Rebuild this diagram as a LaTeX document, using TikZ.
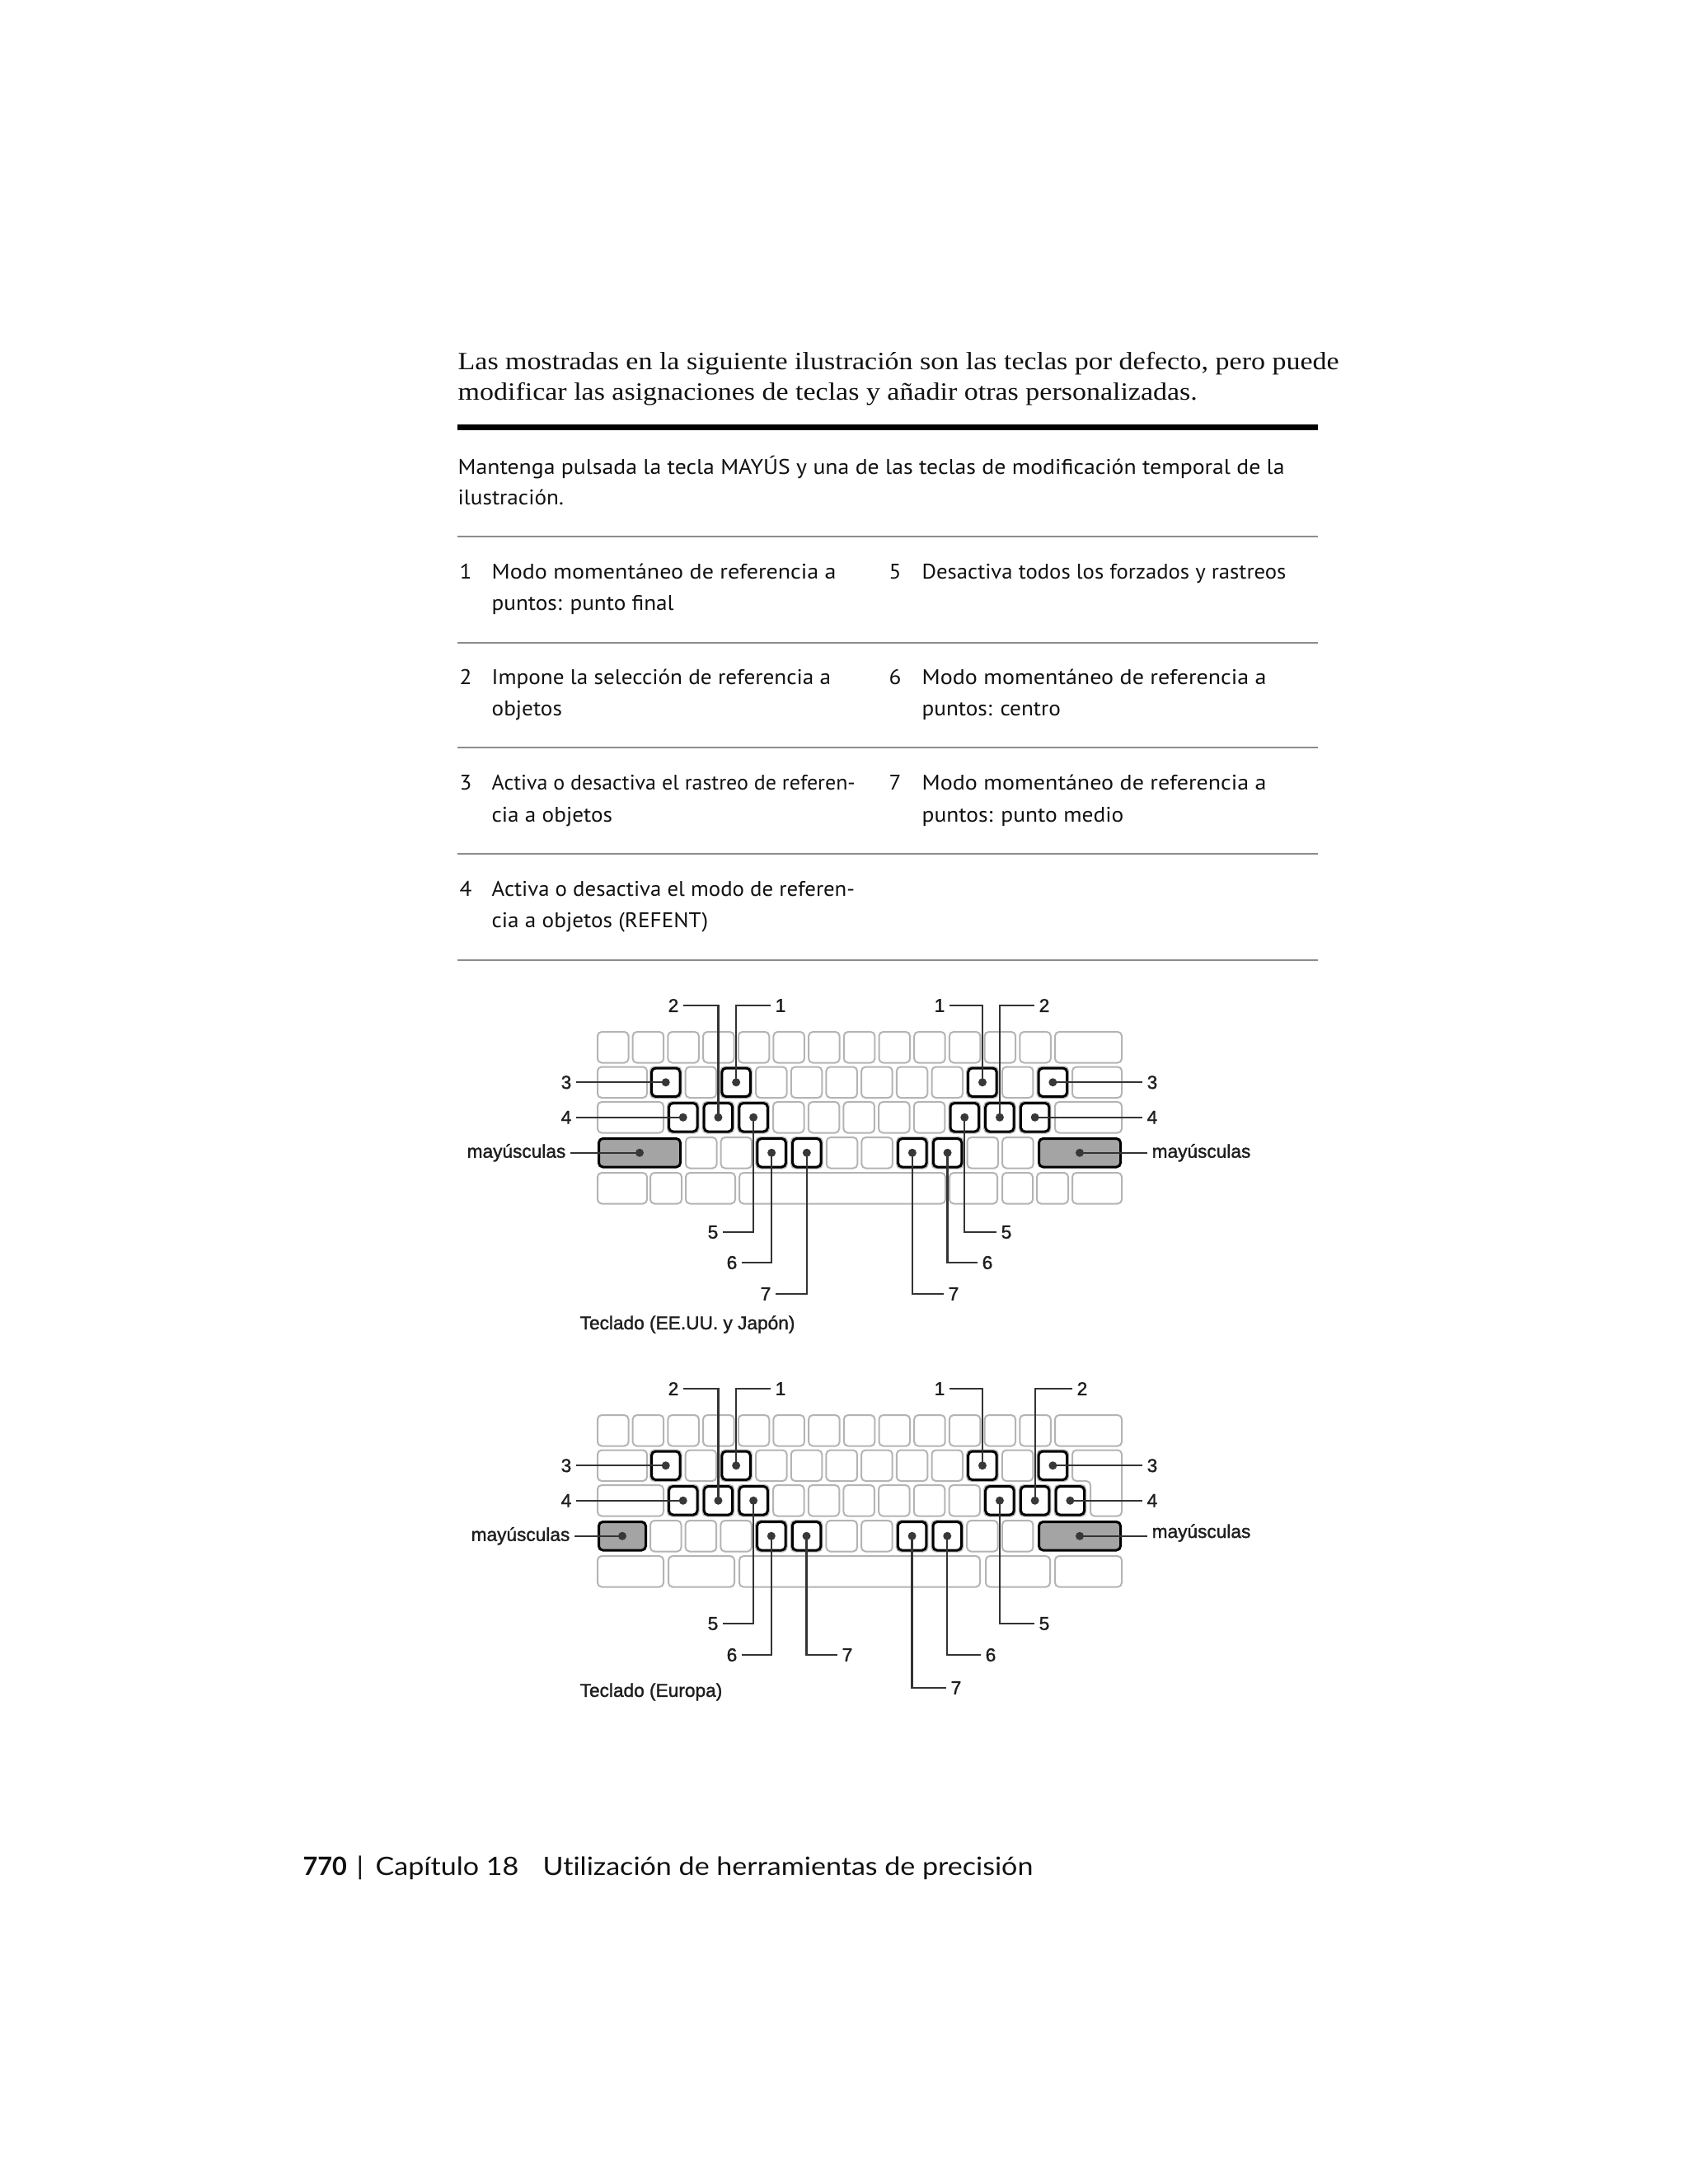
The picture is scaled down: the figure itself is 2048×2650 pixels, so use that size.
\documentclass[tikz,border=0pt]{standalone}
\usepackage{graphicx}
\usepackage{fontspec}
\newfontfamily\parafont{Liberation Serif}[FakeStretch=1.125]
\newfontfamily\tabfont{PT Sans}[FakeStretch=1.06]
\newfontfamily\footfont{Lato}[FakeStretch=1.11, Ligatures={NoCommon,NoDiscretionary}]
\newfontfamily\footbold{Lato}
\newfontfamily\kbfont{Liberation Sans}[FakeBold=1.4]
\definecolor{keyline}{HTML}{B4B4B4}
\definecolor{shiftc}{HTML}{A4A4A4}
\definecolor{dotc}{HTML}{383838}
\definecolor{leadc}{HTML}{333333}
\definecolor{labc}{HTML}{1E1E1E}
\definecolor{rulec}{HTML}{8C8C8C}
\definecolor{txtc}{HTML}{111111}
\newcommand\hsc[2]{\scalebox{#1}[1]{#2}}
\tikzset{
  para/.style={font=\parafont\fontsize{9.06}{11}\selectfont, text=txtc, anchor=base west, inner sep=0pt},
  tabtxt/.style={font=\tabfont\fontsize{7.7}{10}\selectfont, text=txtc, anchor=base west, inner sep=0pt},
  foot/.style={font=\footfont\fontsize{9.2}{11}\selectfont, text=txtc, anchor=base west, inner sep=0pt},
  klab/.style={font=\kbfont\fontsize{6.8}{8}\selectfont, text=labc, inner sep=1.5pt},
  pkey/.style={draw=keyline, line width=0.6pt, rounded corners=1.5pt, fill=white},
  hkey/.style={draw=black, line width=0.9pt, rounded corners=1.5pt, fill=white, minimum width=10.35pt, minimum height=10.35pt, inner sep=0pt},
  skey/.style={hkey, fill=shiftc},
  lead/.style={draw=leadc, line width=0.65pt},
  thinrule/.style={draw=rulec, line width=0.6pt},
  thickrule/.style={draw=black, line width=2.1pt},
}
\newcommand\kbkey[2]{\draw[pkey] ({#1},{#2}) rectangle ({#1+37.5},{#2+37.5});}
\newcommand\kbspan[3]{\draw[pkey] ({#1},{#3}) rectangle ({#2},{#3+37.5});}
\newcommand\hlkey[3]{\node[hkey] (#1) at ({#2+18.75},{#3+18.75}) {};}
\newcommand\kdot[1]{\fill[dotc] (#1.center) circle (1.5pt);}
\begin{document}
\begin{tikzpicture}[x=0.3pt,y=-0.3pt]
\useasboundingbox (0,0) rectangle (2048,2650);
\fill[white] (0,0) rectangle (2048,2650);

% ---------- paragraph ----------
\node[para] (p1) at (555,448) {Las mostradas en la siguiente ilustración son las teclas por defecto, pero puede};
\node[para] (p2) at (555,485) {modificar las asignaciones de teclas y añadir otras personalizadas.};
\draw[thickrule] (555,518.5) -- (1599,518.5);

\node[tabtxt] (m1) at (555,575) {\hsc{1.019}{Mantenga pulsada la tecla MAYÚS y una de las teclas de modificación temporal de la}};
\node[tabtxt] (m2) at (555,612) {ilustración.};

% ---------- table ----------
\draw[thinrule] (555,651) -- (1599,651);
\draw[thinrule] (555,780) -- (1599,780);
\draw[thinrule] (555,907) -- (1599,907);
\draw[thinrule] (555,1036) -- (1599,1036);
\draw[thinrule] (555,1165) -- (1599,1165);

\node[tabtxt] (n1) at (557,702) {1};
\node[tabtxt] (t1a) at (596,702) {\hsc{1.03}{Modo momentáneo de referencia a}};
\node[tabtxt] (t1b) at (596,740) {puntos: punto final};
\node[tabtxt] (n5) at (1078,702) {5};
\node[tabtxt] (t5a) at (1118,702) {\hsc{0.982}{Desactiva todos los forzados y rastreos}};

\node[tabtxt] (n2) at (557,830) {2};
\node[tabtxt] (t2a) at (596,830) {Impone la selección de referencia a};
\node[tabtxt] (t2b) at (596,868) {objetos};
\node[tabtxt] (n6) at (1078,830) {6};
\node[tabtxt] (t6a) at (1118,830) {\hsc{1.03}{Modo momentáneo de referencia a}};
\node[tabtxt] (t6b) at (1118,868) {puntos: centro};

\node[tabtxt] (n3) at (557,958) {3};
\node[tabtxt] (t3a) at (596,958) {\hsc{0.955}{Activa o desactiva el rastreo de referen-}};
\node[tabtxt] (t3b) at (596,997) {cia a objetos};
\node[tabtxt] (n7) at (1078,958) {7};
\node[tabtxt] (t7a) at (1118,958) {\hsc{1.03}{Modo momentáneo de referencia a}};
\node[tabtxt] (t7b) at (1118,997) {\hsc{1.01}{puntos: punto medio}};

\node[tabtxt] (n4) at (557,1087) {4};
\node[tabtxt] (t4a) at (596,1087) {\hsc{0.985}{Activa o desactiva el modo de referen-}};
\node[tabtxt] (t4b) at (596,1125) {cia a objetos (REFENT)};

% ---------- keyboard 1 (US / Japan) ----------
\foreach \i in {0,...,12} {\kbkey{725+\i*42.69}{1252}}
\kbspan{1280}{1361}{1252}
\kbspan{725}{785}{1294.5}
\foreach \i in {0,...,11} {\kbkey{789+\i*42.69}{1294.5}}
\kbspan{1301}{1361}{1294.5}
\kbspan{725}{805}{1337}
\foreach \i in {0,...,10} {\kbkey{810+\i*42.69}{1337}}
\kbspan{1280}{1361}{1337}
\foreach \i in {0,...,9} {\kbkey{832+\i*42.69}{1380}}
\kbspan{725}{785}{1423}\kbspan{789}{827}{1423}\kbspan{832}{892}{1423}
\kbspan{897}{1147}{1423}\kbspan{1152}{1210}{1423}\kbspan{1216}{1253}{1423}
\kbspan{1258}{1296}{1423}\kbspan{1301}{1361}{1423}

\hlkey{ua3}{789}{1294.5}
\hlkey{ua1}{874.38}{1294.5}
\hlkey{ub1}{1173.2}{1294.5}
\hlkey{ub3}{1258.6}{1294.5}
\hlkey{ua4}{810}{1337}
\hlkey{ua2}{852.69}{1337}
\hlkey{ua5}{895.38}{1337}
\hlkey{ub5}{1151.5}{1337}
\hlkey{ub2}{1194.2}{1337}
\hlkey{ub4}{1236.9}{1337}
\hlkey{ua6}{917.38}{1380}
\hlkey{ua7}{960.07}{1380}
\hlkey{ub7}{1088.1}{1380}
\hlkey{ub6}{1130.8}{1380}
\node[skey, minimum width=29.7pt] (uas) at (776,1398.75) {};
\node[skey, minimum width=29.7pt] (ubs) at (1310,1398.75) {};

\node[klab] (uL2) at (817,1220) {2};
\node[klab] (uL1) at (947,1220) {1};
\node[klab] (uL3) at (687,1313.25) {3};
\node[klab] (uL4) at (687,1355.75) {4};
\node[klab, anchor=east] (uLm) at (692,1398.75) {mayúsculas};
\node[klab] (uL5) at (865,1495) {5};
\node[klab] (uL6) at (888,1532) {6};
\node[klab] (uL7) at (929,1570) {7};
\node[klab] (uR1) at (1140,1220) {1};
\node[klab] (uR2) at (1267,1220) {2};
\node[klab] (uR3) at (1398,1313.25) {3};
\node[klab] (uR4) at (1398,1355.75) {4};
\node[klab, anchor=west] (uRm) at (1392,1398.75) {mayúsculas};
\node[klab] (uR5) at (1221,1495) {5};
\node[klab] (uR6) at (1198,1532) {6};
\node[klab] (uR7) at (1157,1570) {7};
\node[klab, anchor=west, inner sep=0pt] (ucap) at (703,1607) {Teclado (EE.UU. y Japón)};

\draw[lead] (uL2.east) -| (ua2.center);
\draw[lead] (uL1.west) -| (ua1.center);
\draw[lead] (uL3.east) -- (ua3.center);
\draw[lead] (uL4.east) -- (ua4.center);
\draw[lead] (uLm.east) -- (uas.center);
\draw[lead] (uL5.east) -| (ua5.center);
\draw[lead] (uL6.east) -| (ua6.center);
\draw[lead] (uL7.east) -| (ua7.center);
\draw[lead] (uR1.east) -| (ub1.center);
\draw[lead] (uR2.west) -| (ub2.center);
\draw[lead] (ub3.center) -- (uR3.west);
\draw[lead] (ub4.center) -- (uR4.west);
\draw[lead] (ubs.center) -- (uRm.west);
\draw[lead] (ub5.center) |- (uR5.west);
\draw[lead] (ub6.center) |- (uR6.west);
\draw[lead] (ub7.center) |- (uR7.west);
\foreach \k in {ua1,ua2,ua3,ua4,ua5,ua6,ua7,ub1,ub2,ub3,ub4,ub5,ub6,ub7,uas,ubs} {\kdot{\k}}

% ---------- keyboard 2 (Europe) ----------
\begin{scope}[shift={(0,465)}]
\foreach \i in {0,...,12} {\kbkey{725+\i*42.69}{1252}}
\kbspan{1280}{1361}{1252}
\kbspan{725}{785}{1294.5}
\foreach \i in {0,...,11} {\kbkey{789+\i*42.69}{1294.5}}
\draw[pkey] (1301,1294.5) -- (1361,1294.5) -- (1361,1374.5) -- (1323,1374.5) -- (1323,1332) -- (1301,1332) -- cycle;
\kbspan{725}{805}{1337}
\foreach \i in {0,...,11} {\kbkey{810+\i*42.69}{1337}}
\foreach \i in {0,...,10} {\kbkey{789+\i*42.69}{1380}}
\kbspan{725}{805}{1423}\kbspan{811}{891}{1423}\kbspan{897}{1189}{1423}
\kbspan{1196}{1274}{1423}\kbspan{1280}{1361}{1423}

\hlkey{ea3}{789}{1294.5}
\hlkey{ea1}{874.38}{1294.5}
\hlkey{eb1}{1173.2}{1294.5}
\hlkey{eb3}{1258.6}{1294.5}
\hlkey{ea4}{810}{1337}
\hlkey{ea2}{852.69}{1337}
\hlkey{ea5}{895.38}{1337}
\hlkey{eb5}{1194.2}{1337}
\hlkey{eb2}{1236.9}{1337}
\hlkey{eb4}{1279.6}{1337}
\hlkey{ea6}{917.07}{1380}
\hlkey{ea7}{959.76}{1380}
\hlkey{eb7}{1087.8}{1380}
\hlkey{eb6}{1130.5}{1380}
\node[skey, minimum width=17.1pt] (eas) at (755,1398.75) {};
\node[skey, minimum width=29.7pt] (ebs) at (1310,1398.75) {};
\end{scope}

\node[klab] (eL2) at (817,1685) {2};
\node[klab] (eL1) at (947,1685) {1};
\node[klab] (eL3) at (687,1778.25) {3};
\node[klab] (eL4) at (687,1820.75) {4};
\node[klab, anchor=east] (eLm) at (697,1863.75) {mayúsculas};
\node[klab] (eL5) at (865,1970) {5};
\node[klab] (eL6) at (888,2008) {6};
\node[klab] (eL7) at (1028,2008) {7};
\node[klab] (eR1) at (1140,1685) {1};
\node[klab] (eR2) at (1313,1685) {2};
\node[klab] (eR3) at (1398,1778.25) {3};
\node[klab] (eR4) at (1398,1820.75) {4};
\node[klab, anchor=west] (eRm) at (1392,1860) {mayúsculas};
\node[klab] (eR5) at (1267,1970) {5};
\node[klab] (eR6) at (1202,2008) {6};
\node[klab] (eR7) at (1160,2048) {7};
\node[klab, anchor=west, inner sep=0pt] (ecap) at (703,2053) {Teclado (Europa)};

\draw[lead] (eL2.east) -| (ea2.center);
\draw[lead] (eL1.west) -| (ea1.center);
\draw[lead] (eL3.east) -- (ea3.center);
\draw[lead] (eL4.east) -- (ea4.center);
\draw[lead] (eLm.east) -- (eas.center);
\draw[lead] (eL5.east) -| (ea5.center);
\draw[lead] (eL6.east) -| (ea6.center);
\draw[lead] (ea7.center) |- (eL7.west);
\draw[lead] (eR1.east) -| (eb1.center);
\draw[lead] (eR2.west) -| (eb2.center);
\draw[lead] (eb3.center) -- (eR3.west);
\draw[lead] (eb4.center) -- (eR4.west);
\draw[lead] (ebs.center) -- (ebs.center -| eRm.west);
\draw[lead] (eb5.center) |- (eR5.west);
\draw[lead] (eb6.center) |- (eR6.west);
\draw[lead] (eb7.center) |- (eR7.west);
\foreach \k in {ea1,ea2,ea3,ea4,ea5,ea6,ea7,eb1,eb2,eb3,eb4,eb5,eb6,eb7,eas,ebs} {\kdot{\k}}

% ---------- footer ----------
\node[foot, font=\footbold\bfseries\fontsize{9.2}{11}\selectfont] (f1) at (367,2275) {770};
\node[foot, anchor=base] (f2) at (437,2275) {|};
\node[foot] (f3) at (455,2275) {Capítulo 18};
\node[foot] (f4) at (658,2275) {Utilización de herramientas de precisión};
\end{tikzpicture}
\end{document}
